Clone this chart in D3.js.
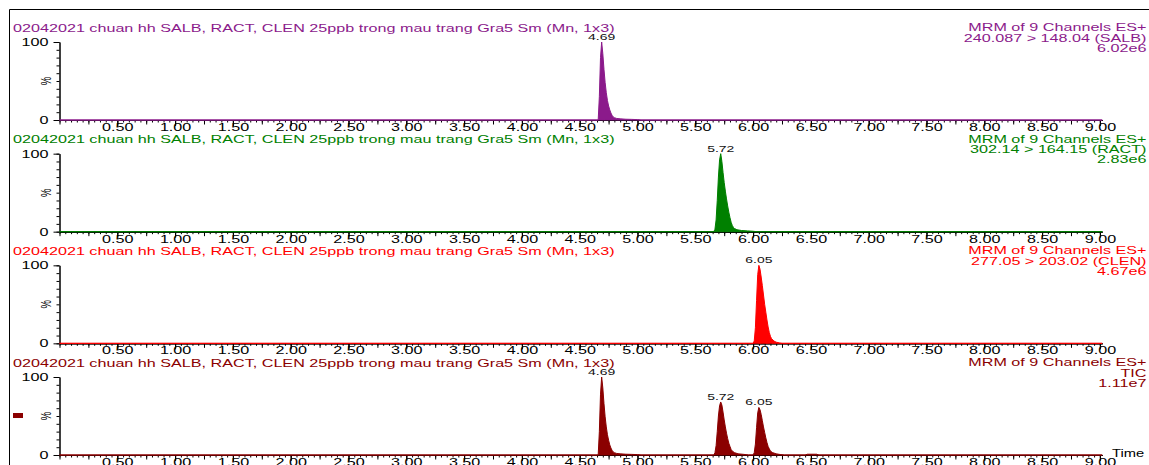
<!DOCTYPE html>
<html>
<head>
<meta charset="utf-8">
<script src="https://cdn.jsdelivr.net/npm/d3@7"></script>
<style>
  body { margin: 0; background: #fff; }
  svg text { font-family: "Liberation Sans", Arial, sans-serif; }
</style>
</head>
<body>
<div id="chart"></div>
<script>
// chromatogram stack: 3 MRM channels + TIC, intensity in % of each channel max

const sampleTitle = "02042021 chuan hh SALB, RACT, CLEN 25ppb trong mau trang Gra5 Sm (Mn, 1x3)";
const channels = ["SALB", "RACT", "CLEN", "TIC"];
const channelHeader = "MRM of 9 Channels ES+";
const channelTransitions = ["240.087 > 148.04 (SALB)", "302.14 > 164.15 (RACT)", "277.05 > 203.02 (CLEN)", "TIC"];
const channelMax = ["6.02e6", "2.83e6", "4.67e6", "1.11e7"];
const peakTimes = [[4.69], [5.72], [6.05], [4.69, 5.72, 6.05]];

const xTickLabels = [0.5, 1.0, 1.5, 2.0, 2.5, 3.0, 3.5, 4.0, 4.5, 5.0, 5.5, 6.0, 6.5, 7.0, 7.5, 8.0, 8.5, 9.0];
const yTickLabels = [0, 100];

// [time (min), % intensity]
const salbTrace = [
  [0, 0], [4.66, 0], [4.67, 30], [4.68, 80], [4.69, 100], [4.70, 85], [4.71, 65], [4.72, 48],
  [4.73, 35], [4.74, 25], [4.75, 18], [4.76, 13], [4.77, 9], [4.78, 6], [4.79, 4], [4.80, 3],
  [4.82, 2], [4.85, 1.5], [4.90, 1], [4.95, 0.8], [5.00, 0.5], [5.03, 0], [9.02, 0]
];
const ractTrace = [
  [0, 0], [5.66, 0], [5.67, 3], [5.68, 15], [5.69, 40], [5.70, 70], [5.71, 92], [5.72, 100],
  [5.73, 90], [5.74, 76], [5.75, 63], [5.76, 52], [5.77, 42], [5.78, 33], [5.79, 25], [5.80, 18],
  [5.81, 12], [5.82, 8], [5.83, 5.5], [5.84, 4], [5.86, 2.5], [5.90, 1.5], [5.95, 1], [6.00, 0.5],
  [6.03, 0], [9.02, 0]
];
const clenTrace = [
  [0, 0], [6.00, 0], [6.01, 3], [6.02, 20], [6.03, 55], [6.04, 88], [6.05, 100], [6.06, 95],
  [6.07, 85], [6.08, 74], [6.09, 62], [6.10, 50], [6.11, 40], [6.12, 30], [6.13, 21], [6.14, 14],
  [6.15, 9], [6.16, 6], [6.18, 3], [6.20, 1.5], [6.23, 0.5], [6.25, 0], [9.02, 0]
];
const ticTrace = [
  [0, 0], [4.66, 0], [4.67, 30], [4.68, 78], [4.69, 100], [4.70, 86], [4.71, 66], [4.72, 49],
  [4.73, 36], [4.74, 26], [4.75, 19], [4.76, 13], [4.77, 9], [4.78, 6], [4.79, 4], [4.80, 3],
  [4.82, 2], [4.85, 1.5], [4.90, 1], [4.95, 0.8], [5.00, 0.5], [5.03, 0],
  [5.66, 0], [5.67, 3], [5.68, 12], [5.69, 30], [5.70, 50], [5.71, 63], [5.72, 68], [5.73, 64],
  [5.74, 55], [5.75, 45], [5.76, 36], [5.77, 28], [5.78, 21], [5.79, 15], [5.80, 11], [5.81, 7],
  [5.82, 5], [5.84, 3], [5.87, 1.5], [5.92, 0.8], [5.96, 0],
  [6.00, 0], [6.01, 3], [6.02, 14], [6.03, 35], [6.04, 54], [6.05, 61], [6.06, 58], [6.07, 52],
  [6.08, 44], [6.09, 36], [6.10, 29], [6.11, 22], [6.12, 16], [6.13, 11], [6.14, 8], [6.15, 5],
  [6.17, 3], [6.20, 1.5], [6.24, 0.5], [6.27, 0],
  [6.45, 0], [6.47, 1], [6.55, 1], [6.57, 0], [9.02, 0]
];
const traces = [salbTrace, ractTrace, clenTrace, ticTrace];

// styles
const colors = ["#8b1a8b", "#008000", "#ff0000", "#8b0000"];
const width = 1149, height = 465;
const sx = 1.47;          // text in the source is stretched horizontally
const fontSize = 11;
const panelTop = 120, panelStep = 111.67, plotH = 78;

const svg = d3.select("#chart").append("svg")
  .attr("width", width)
  .attr("height", height);

// outer frame (top + left edges visible)
svg.append("path")
  .attr("d", `M9.5,${height} V9.5 H${width}`)
  .attr("fill", "none")
  .attr("stroke", "#000");

const x = d3.scaleLinear().domain([0, 9.02]).range([59.5, 1102.2]);

function stretchText(g, px, py, txt, opts = {}) {
  return g.append("text")
    .attr("transform", `translate(${px},${py}) scale(${sx},1)` + (opts.rotate ? ` rotate(${opts.rotate})` : ""))
    .attr("text-anchor", opts.anchor || "start")
    .style("font-size", (opts.size || fontSize) + "px")
    .attr("fill", opts.fill || "#000")
    .text(txt);
}

channels.forEach((ch, i) => {
  const y0 = panelTop + i * panelStep;
  const y = d3.scaleLinear().domain([0, 100]).range([y0, y0 - plotH]);
  const g = svg.append("g");
  const col = colors[i];

  // x axis: minor, medium and labelled ticks
  const minor = d3.range(0, 181).map(k => k * 0.05);
  const medium = d3.range(0, 37).map(k => k * 0.25);
  g.append("g").attr("transform", `translate(0,${y0})`)
    .call(d3.axisBottom(x).tickValues(minor).tickSize(2.5).tickSizeOuter(0).tickFormat(""));
  g.append("g").attr("transform", `translate(0,${y0})`)
    .call(d3.axisBottom(x).tickValues(medium).tickSize(4.5).tickSizeOuter(0).tickFormat(""));
  const xa = g.append("g").attr("transform", `translate(0,${y0})`)
    .call(d3.axisBottom(x).tickValues(xTickLabels).tickSize(6).tickSizeOuter(0)
      .tickPadding(-2.8).tickFormat(d3.format(".2f")));
  xa.selectAll("text")
    .attr("transform", `scale(${sx},1)`)
    .style("font-size", fontSize + "px")
    .attr("fill", "#000");

  // y axis
  g.append("g").attr("transform", `translate(${x(0)},0)`)
    .call(d3.axisLeft(y).tickValues(d3.range(0, 101, 10)).tickSize(3).tickSizeOuter(0).tickFormat(""));
  const ya = g.append("g").attr("transform", `translate(${x(0)},0)`)
    .call(d3.axisLeft(y).tickValues(yTickLabels).tickSize(6).tickSizeOuter(0).tickPadding(1.5));
  ya.selectAll("text")
    .attr("transform", `scale(${sx},1)`)
    .style("font-size", fontSize + "px")
    .attr("fill", "#000");
  g.selectAll(".domain").attr("stroke", "#000");
  g.selectAll(".tick line").attr("stroke", "#000");

  stretchText(g, 47, y(50), "%", { rotate: -90, anchor: "middle", size: 9.5 })
    .attr("dy", "0.32em");

  // trace
  const area = d3.area()
    .x(d => x(d[0]))
    .y0(y(0))
    .y1(d => y(d[1]));
  g.append("path")
    .datum(traces[i])
    .attr("d", area)
    .attr("fill", col)
    .attr("stroke", col)
    .attr("stroke-width", 1);

  // peak labels
  peakTimes[i].forEach(t => {
    const p = traces[i].find(d => Math.abs(d[0] - t) < 1e-6);
    stretchText(g, x(t), y(p[1]) - 2, t.toFixed(2), { anchor: "middle", size: 9.5, fill: "#111" });
  });

  // headers
  stretchText(g, 13, y0 - 88.5, sampleTitle, { fill: col });
  stretchText(g, 1146.5, y0 - 89, channelHeader, { anchor: "end", fill: col });
  stretchText(g, 1146.5, y0 - 78.5, channelTransitions[i], { anchor: "end", fill: col });
  stretchText(g, 1146.5, y0 - 68.5, channelMax[i], { anchor: "end", fill: col });

  if (ch === "TIC") {
    stretchText(g, 1112, y0 + 1.5, "Time", { size: 10 });
    g.append("rect")
      .attr("x", 13).attr("y", y(50) - 3)
      .attr("width", 10).attr("height", 5)
      .attr("fill", col);
  }
});
</script>
</body>
</html>
